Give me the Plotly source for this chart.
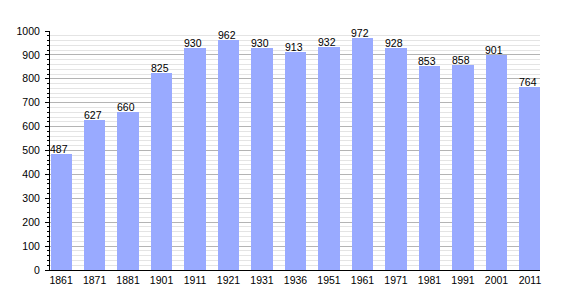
import plotly.graph_objects as go

years = ["1861", "1871", "1881", "1901", "1911", "1921", "1931", "1936",
         "1951", "1961", "1971", "1981", "1991", "2001", "2011"]
population = [487, 627, 660, 825, 930, 962, 930, 913, 932, 972, 928, 853, 858, 901, 764]
y_ticks = [0, 100, 200, 300, 400, 500, 600, 700, 800, 900, 1000]

positions = list(range(len(years)))
FONT = "Liberation Sans, Arial"

fig = go.Figure()
fig.add_trace(go.Bar(
    x=positions, y=population, width=0.63,
    marker=dict(color="#99aaff", line=dict(width=0)),
    hoverinfo="x+y",
))

for p, v in zip(positions, population):
    fig.add_annotation(
        x=p, y=v, text=str(v), showarrow=False,
        xanchor="center", yanchor="bottom", yshift=-3, xshift=-2,
        font=dict(family=FONT, size=10.5, color="black"),
    )

fig.update_layout(
    width=570, height=300,
    margin=dict(l=50, r=30, t=31, b=30),
    plot_bgcolor="white", paper_bgcolor="white",
    showlegend=False,
    bargap=0,
    font=dict(family=FONT, size=10.5, color="black"),
)
fig.update_xaxes(
    range=[-0.33, 14.3],
    tickmode="array", tickvals=positions, ticktext=years,
    showline=True, linecolor="black", linewidth=1,
    showgrid=False, zeroline=False, ticks="",
    tickfont=dict(size=10.5),
)
fig.update_yaxes(
    range=[0, 1000],
    tickmode="array", tickvals=y_ticks,
    showline=True, linecolor="black", linewidth=1,
    showgrid=True, gridcolor="#b4b4b4", gridwidth=1,
    zeroline=False,
    ticks="outside", ticklen=4, tickcolor="black",
    ticklabelstandoff=3,
    tickfont=dict(size=10.5),
    minor=dict(dtick=20, showgrid=True, gridcolor="#e4e4e4", gridwidth=1,
               ticks="outside", ticklen=2, tickcolor="black"),
)

fig.write_html("out.html")
